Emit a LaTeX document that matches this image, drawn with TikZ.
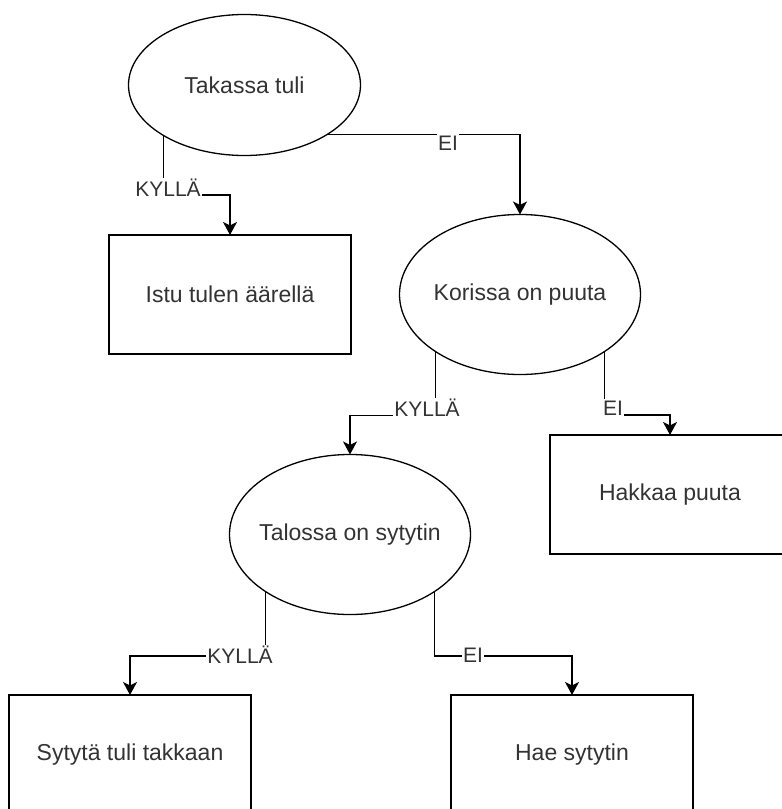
\documentclass[tikz,border=0pt]{standalone}
\usepackage{fontspec}
\setmainfont{Liberation Sans}
\usetikzlibrary{shapes.geometric,arrows.meta,calc}

\tikzset{
  decision/.style={ellipse, draw, line width=1.3pt, inner sep=0pt, outer sep=0pt,
    minimum width=241pt, minimum height=160pt, text=black!80,
    font=\fontsize{23}{27}\selectfont},
  action/.style={rectangle, draw, line width=1.3pt, inner sep=0pt, outer sep=0pt,
    minimum width=242pt, minimum height=120pt, text=black!80,
    font=\fontsize{23}{27}\selectfont},
  flow/.style={line width=1.3pt, -{Stealth[length=13pt, width=14pt, inset=3.5pt]}},
  answer/.style={fill=white, inner sep=1.5pt, text=black!80,
    font=\fontsize{21}{24}\selectfont}
}
% zero-width text so the ellipse size comes from its minimum size only
\newcommand{\centred}[1]{\makebox[0pt]{#1}}

\begin{document}
\begin{tikzpicture}[x=1pt, y=-1pt]
  \useasboundingbox (0,0) rectangle (782,809);
  \clip (0,0) rectangle (782,809);

  % questions
  \node[decision, minimum width=232pt, minimum height=141pt] (e1) at (244.5,85) {\centred{Takassa tuli}};
  \node[decision] (e2) at (520,294.5) {\centred{Korissa on puuta}};
  \node[decision] (e3) at (350,534.5) {\centred{Talossa on sytytin}};

  % actions
  \node[action, minimum height=119pt] (b1) at (230,294.5) {Istu tulen äärellä};
  \node[action, minimum width=240pt, minimum height=119pt] (b3) at (670,494.5) {Hakkaa puuta};
  \node[action] (b4) at (130,755) {Sytytä tuli takkaan};
  \node[action] (b5) at (572,755) {Hae sytytin};

  % connectors
  \draw[flow] (e1.212) |- ($(b1.north)+(0,-40)$) -- (b1.north);
  \draw[flow] (e1.-31) -| (e2.north);
  \draw[flow] (e2.214.6) |- ($(e3.north)+(0,-39)$) -- (e3.north);
  \draw[flow] (e2.326) |- ($(b3.north)+(0,-20)$) -- (b3.north);
  \draw[flow] (e3.214.6) |- ($(b4.north)+(0,-39)$) -- (b4.north);
  \draw[flow] (e3.326) |- ($(b5.north)+(0,-39)$) -- (b5.north);

  % answer labels
  \node[answer] (l1) at (168,188) {KYLLÄ};
  \node[answer] (l2) at (448,143) {EI};
  \node[answer] (l3) at (427,408) {KYLLÄ};
  \node[answer] (l4) at (613,408) {EI};
  \node[answer] (l5) at (240,655) {KYLLÄ};
  \node[answer] (l6) at (473,655) {EI};
\end{tikzpicture}
\end{document}
